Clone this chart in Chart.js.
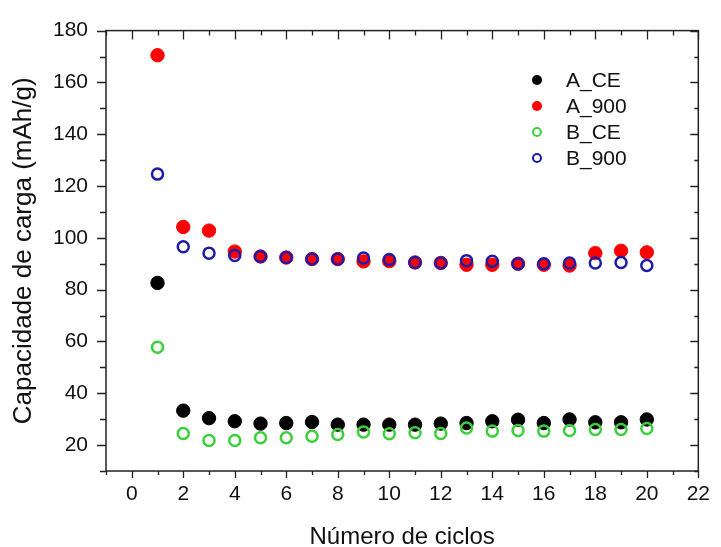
<!DOCTYPE html>
<html>
<head>
<meta charset="utf-8">
<script src="https://cdn.jsdelivr.net/npm/chart.js@4/dist/chart.umd.min.js"></script>
<style>
  html, body { margin: 0; padding: 0; background: #fff; }
  canvas { display: block; }
</style>
</head>
<body>
<canvas id="myChart" width="721" height="547"></canvas>
<script>
const cycles = [1, 2, 3, 4, 5, 6, 7, 8, 9, 10, 11, 12, 13, 14, 15, 16, 17, 18, 19, 20];

const aCE = [82.6, 33.3, 30.4, 29.2, 28.3, 28.5, 28.9, 27.9, 27.9, 27.9, 27.9, 28.3, 28.5, 29.2, 29.8, 28.5, 29.9, 28.8, 28.8, 29.9];
const a900 = [170.5, 104.2, 102.8, 94.7, 92.8, 92.4, 91.8, 91.8, 90.9, 91.0, 90.5, 90.3, 89.6, 89.6, 90.0, 89.6, 89.3, 94.1, 95.0, 94.4];
const bCE = [57.8, 24.5, 21.8, 21.8, 22.8, 22.8, 23.4, 24.1, 25.1, 24.4, 24.8, 24.5, 26.6, 25.4, 25.6, 25.4, 25.6, 26.0, 26.0, 26.4];
const b900 = [124.6, 96.6, 94.1, 93.2, 92.8, 92.4, 91.8, 91.8, 92.2, 91.6, 90.5, 90.3, 91.2, 91.0, 90.0, 90.0, 90.3, 90.3, 90.5, 89.3];

const xTicks = [0, 2, 4, 6, 8, 10, 12, 14, 16, 18, 20, 22];
const yTicks = [20, 40, 60, 80, 100, 120, 140, 160, 180];

const toPoints = (vals) => cycles.map((c, i) => ({ x: c, y: vals[i] }));

Chart.defaults.font.family = "'Liberation Sans', Arial, sans-serif";
Chart.defaults.color = '#111';

const axisColor = '#222';

// frame with inward/outward ticks (major + minor), like the original plot
const framePlugin = {
  id: 'frame',
  afterDraw(chart) {
    const { ctx, chartArea: a, scales: { x, y } } = chart;
    ctx.save();
    ctx.strokeStyle = axisColor;
    ctx.lineWidth = 1.5;
    ctx.strokeRect(a.left, a.top, a.right - a.left, a.bottom - a.top);
    ctx.lineWidth = 1.3;
    ctx.beginPath();
    for (let v = -1; v <= 22; v++) {
      const px = Math.round(x.getPixelForValue(v)) + 0.5;
      const major = v % 2 === 0;
      // bottom: outward
      ctx.moveTo(px, a.bottom);
      ctx.lineTo(px, a.bottom + (major ? 7 : 4));
      // top: inward
      ctx.moveTo(px, a.top);
      ctx.lineTo(px, a.top + (major ? 9 : 5));
    }
    for (let v = 10; v <= 180; v += 10) {
      const py = Math.round(y.getPixelForValue(v)) + 0.5;
      const major = v % 20 === 0;
      // left: outward
      ctx.moveTo(a.left, py);
      ctx.lineTo(a.left - (major ? 9 : 6), py);
      // right: inward
      ctx.moveTo(a.right, py);
      ctx.lineTo(a.right - (major ? 8 : 4), py);
    }
    ctx.stroke();
    ctx.restore();
  }
};

// legend inside the plot, top right
const legendPlugin = {
  id: 'innerLegend',
  afterDraw(chart) {
    const { ctx } = chart;
    const x0 = 537, tx = 566, y0 = 80, dy = 26;
    ctx.save();
    ctx.font = "21px 'Liberation Sans', Arial, sans-serif";
    ctx.textBaseline = 'middle';
    ctx.textAlign = 'left';
    chart.data.datasets.forEach((ds, i) => {
      const yy = y0 + i * dy;
      ctx.beginPath();
      if (ds.hollow) {
        ctx.arc(x0, yy, 4, 0, Math.PI * 2);
        ctx.lineWidth = 2;
        ctx.strokeStyle = ds.pointBorderColor;
        ctx.stroke();
      } else {
        ctx.arc(x0, yy, 5, 0, Math.PI * 2);
        ctx.fillStyle = ds.pointBackgroundColor;
        ctx.fill();
      }
      ctx.fillStyle = '#111';
      ctx.fillText(ds.label, tx, yy + 1);
    });
    ctx.restore();
  }
};

const filled = (color) => ({
  pointBackgroundColor: color,
  pointBorderColor: color,
  pointBorderWidth: 1,
  pointRadius: 6.7,
  pointHoverRadius: 6.7
});
const hollow = (color) => ({
  hollow: true,
  pointBackgroundColor: 'rgba(0,0,0,0)',
  pointBorderColor: color,
  pointBorderWidth: 2.5,
  pointRadius: 5.5,
  pointHoverRadius: 5.5
});

const ctx = document.getElementById('myChart').getContext('2d');
const chart = new Chart(ctx, {
  type: 'scatter',
  data: {
    datasets: [
      { label: 'A_CE', data: toPoints(aCE), order: 1, ...filled('#000000') },
      { label: 'A_900', data: toPoints(a900), order: 1, ...filled('#ff0000') },
      { label: 'B_CE', data: toPoints(bCE), order: 0, ...hollow('#3ccf3c') },
      { label: 'B_900', data: toPoints(b900), order: 0, ...hollow('#1c1ca8') }
    ]
  },
  options: {
    responsive: false,
    animation: false,
    layout: {
      padding: { top: 25, right: 14, left: 0, bottom: 0 }
    },
    plugins: {
      legend: { display: false },
      tooltip: { enabled: false }
    },
    scales: {
      x: {
        type: 'linear',
        min: -1,
        max: 22,
        afterBuildTicks: (scale) => {
          scale.ticks = xTicks.map(v => ({ value: v }));
        },
        afterFit: (scale) => {
          scale.height = 76;
        },
        grid: { display: false, drawTicks: false },
        border: { display: false },
        ticks: {
          padding: 11,
          font: { size: 21 },
          color: '#111',
          maxRotation: 0,
          autoSkip: false
        },
        title: {
          display: true,
          text: 'Número de ciclos',
          font: { size: 24, lineHeight: 1 },
          color: '#111',
          padding: { top: 0, bottom: -2 }
        }
      },
      y: {
        type: 'linear',
        min: 10,
        max: 180,
        afterBuildTicks: (scale) => {
          scale.ticks = yTicks.map(v => ({ value: v }));
        },
        afterFit: (scale) => {
          scale.width = 106;
        },
        grid: { display: false, drawTicks: false },
        border: { display: false },
        ticks: {
          padding: 18,
          font: { size: 21 },
          color: '#111',
          autoSkip: false
        },
        title: {
          display: true,
          text: 'Capacidade de carga (mAh/g)',
          font: { size: 26, lineHeight: 1 },
          color: '#111',
          padding: { top: 11, bottom: 0 }
        }
      }
    }
  },
  plugins: [framePlugin, legendPlugin]
});
</script>
</body>
</html>
